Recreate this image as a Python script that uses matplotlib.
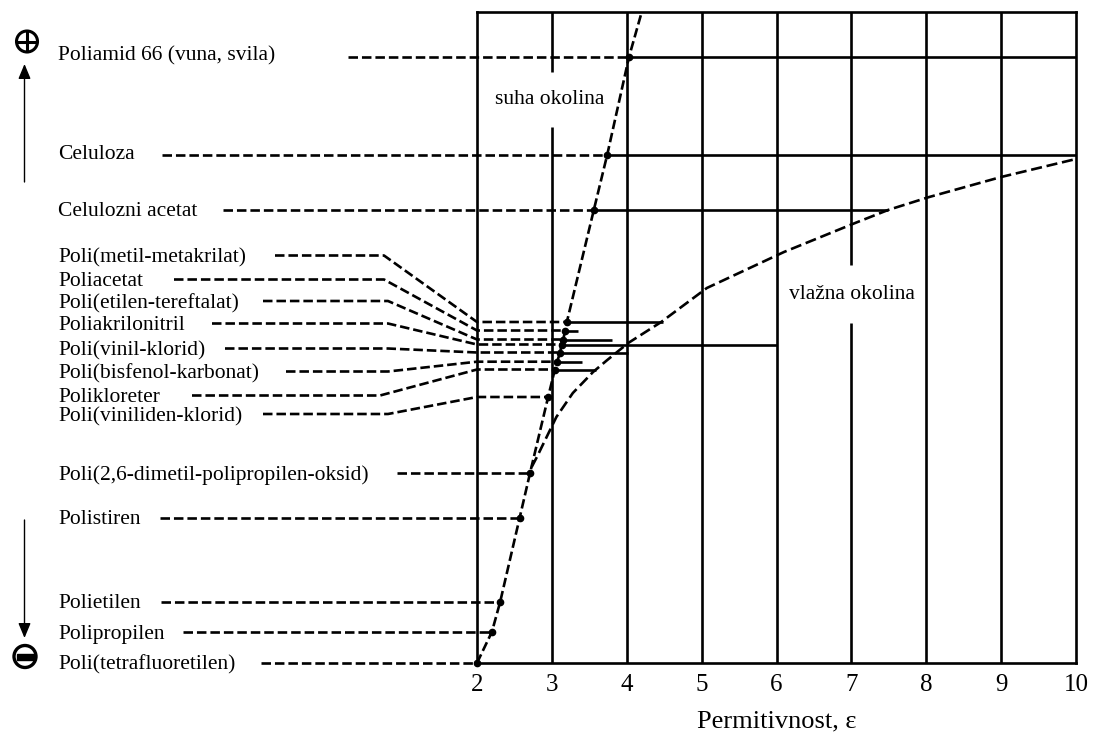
"""Triboelectric series of polymers vs. permittivity (dry / humid environment)."""

import matplotlib

matplotlib.use("Agg")
import matplotlib.pyplot as plt
import numpy as np
from matplotlib.patches import Circle, Rectangle

plt.rcParams["font.family"] = ["Liberation Serif", "DejaVu Serif"]

# --- data -------------------------------------------------------------------
materials = [
    "Poliamid 66 (vuna, svila)",
    "Celuloza",
    "Celulozni acetat",
    "Poli(metil-metakrilat)",
    "Poliacetat",
    "Poli(etilen-tereftalat)",
    "Poliakrilonitril",
    "Poli(vinil-klorid)",
    "Poli(bisfenol-karbonat)",
    "Polikloreter",
    "Poli(viniliden-klorid)",
    "Poli(2,6-dimetil-polipropilen-oksid)",
    "Polistiren",
    "Polietilen",
    "Polipropilen",
    "Poli(tetrafluoretilen)",
]
# position in the series (arbitrary units, 0 = most negative)
series_level = [606, 508.5, 453, 341, 332.5, 323.5, 318.5, 310.5,
                301.3, 293.5, 266, 190.5, 145.3, 61.3, 31.3, 0]
# permittivity in dry environment (points on the dry curve)
eps_dry = [4.03, 3.74, 3.56, 3.20, 3.18, 3.15, 3.13, 3.11,
           3.07, 3.04, 2.95, 2.71, 2.57, 2.31, 2.20, 2.00]
# end of the solid line (humid environment), nan = none
eps_wet_end = [10.0, 10.0, 7.49, 4.49, 3.35, 3.80, 6.0, 4.02,
               3.40, 3.59, np.nan, np.nan, np.nan, np.nan, np.nan, np.nan]

# upper end of the dry curve
dry_top_eps = 4.2
dry_top_level = 651

# humid environment curve
wet_eps = [2.73, 2.80, 2.93, 3.06, 3.28, 3.55, 3.74, 4.02, 4.46, 5.07,
           6.10, 7.05, 7.49, 8.04, 9.00, 10.0]
wet_level = [196, 206, 226, 246, 270, 291, 303, 320, 341, 375,
             411, 440, 453, 466, 486, 504]

eps_ticks = [2, 3, 4, 5, 6, 7, 8, 9, 10]

# --- layout (pixels from top-left) ------------------------------------------
W, H = 1094, 733
X0, X1, Y0, Y1 = 477, 1076, 12, 663
LABEL_X = 58
label_y_px = [53.5, 152, 208.5, 255.5, 279.5, 301, 323.5, 348.5,
              371.5, 395.5, 414, 472.5, 517.5, 601.5, 631.5, 662]
LABEL_DY = 2.5  # matplotlib centres on the bbox incl. descent
leader_start_px = [348, 162, 223, 275, 174, 263, 212, 225,
                   286, 192, 263, 396.5, 160, 161, 183, 260.5]
leader_bend_px = [None, None, None, 384, 384, 388, 388, 388,
                  388, 380, 388, None, None, None, None, None]

LW = 1.9
DASH = (3.6, 1.5)
FS = 15.5

fig = plt.figure(figsize=(W / 100, H / 100), dpi=100)
fig.patch.set_facecolor("white")
ax = fig.add_axes([X0 / W, (H - Y1) / H, (X1 - X0) / W, (Y1 - Y0) / H])
ax.set_xlim(2, 10)
ax.set_ylim(0, 651)
for sp in ax.spines.values():
    sp.set_linewidth(LW)
ax.set_xticks(eps_ticks)
ax.set_xticklabels([str(t) for t in eps_ticks])
ax.set_yticks([])
ax.tick_params(axis="x", length=0, pad=8, labelsize=18)
ax.set_xlabel("Permitivnost, ε", fontsize=19, labelpad=10)

# vertical grid lines, with gaps for the region labels at 3 and 7
gaps = {3: (536, 591), 7: (340, 398)}
for e in eps_ticks[1:-1]:
    if e in gaps:
        lo, hi = gaps[e]
        ax.vlines([e, e], [0, hi], [lo, 651], color="black", lw=LW)
    else:
        ax.vlines(e, 0, 651, color="black", lw=LW)

# solid lines (humid environment)
for lvl, e0, e1 in zip(series_level, eps_dry, eps_wet_end):
    if not np.isnan(e1):
        ax.hlines(lvl, e0, e1, color="black", lw=LW)

# dry and humid curves
order = np.argsort(series_level)
dry_x = list(np.array(eps_dry)[order]) + [dry_top_eps]
dry_y = list(np.array(series_level)[order]) + [dry_top_level]
ax.plot(dry_x, dry_y, color="black", lw=LW, dashes=DASH, clip_on=False)
ax.plot(wet_eps, wet_level, color="black", lw=LW, dashes=(4.2, 1.8))
ax.plot(eps_dry, series_level, "o", color="black", ms=4.5, clip_on=False, zorder=4)

# leader lines from labels to the dry curve
inv = ax.transData.inverted()


def to_data(xp, yp):
    return inv.transform((xp, H - yp))


for i, lvl in enumerate(series_level):
    if leader_bend_px[i] is None:
        x_start, _ = to_data(leader_start_px[i], 0)
        xs, ys = [x_start, eps_dry[i]], [lvl, lvl]
    else:
        x_start, y_lab = to_data(leader_start_px[i], label_y_px[i])
        x_bend, _ = to_data(leader_bend_px[i], label_y_px[i])
        xs = [x_start, x_bend, 2.0, eps_dry[i]]
        ys = [y_lab, y_lab, lvl, lvl]
    ax.plot(xs, ys, color="black", lw=LW, dashes=DASH, clip_on=False)

# overlay in pixel coordinates for labels and symbols
ov = fig.add_axes([0, 0, 1, 1])
ov.set_xlim(0, W)
ov.set_ylim(H, 0)
ov.axis("off")

for name, yp in zip(materials, label_y_px):
    ov.text(LABEL_X, yp + LABEL_DY, name, fontsize=FS, ha="left", va="center")

ov.text(550, 97 + LABEL_DY, "suha okolina", fontsize=FS, ha="center", va="center")
ov.text(852, 292 + LABEL_DY, "vlažna okolina", fontsize=FS, ha="center", va="center")

arrow = dict(arrowstyle="-|>,head_length=0.6,head_width=0.25", mutation_scale=15,
             lw=1.0, color="black", shrinkA=0, shrinkB=0)
ov.annotate("", xy=(24.5, 64), xytext=(24.5, 182), arrowprops=arrow)
ov.annotate("", xy=(24.5, 638), xytext=(24.5, 520), arrowprops=arrow)

ov.add_patch(Circle((27, 41.5), 10.5, fill=False, lw=2.2, color="black"))
ov.plot([18, 36], [41.5, 41.5], color="black", lw=2.2)
ov.plot([27, 27], [32.5, 50.5], color="black", lw=2.2)
ov.add_patch(Circle((25, 656.5), 11, fill=False, lw=2.4, color="black"))
ov.add_patch(Rectangle((16.5, 653.5), 17, 6, color="black"))

fig.savefig("out.png", dpi=100)
